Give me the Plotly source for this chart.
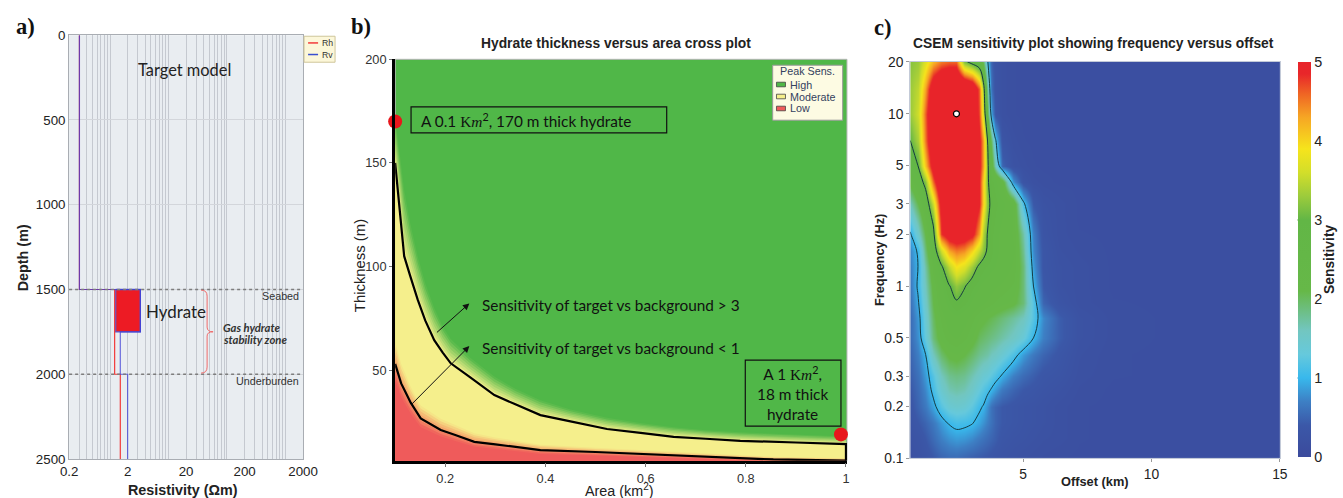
import numpy as np
import plotly.graph_objects as go

# The screenshot maps figure pixels to picture pixels as
#   picture = s * (figure + 8)  with s = 1343/1367 (x) and 498/514 (y)
# for a 1351x506 figure. All placements below are in picture pixels.
SX, SY = 1343 / 1367, 498 / 514
W, H = 1351, 506
def FX(x): return x / SX - 8
def FY(y): return y / SY - 8
def PX(x): return FX(x) / W
def PY(y): return 1 - FY(y) / H
FS = 1.025  # font compensation for the downscale

ARIAL = "Liberation Sans, Arial, sans-serif"
CAL = "Lato, Open Sans, sans-serif"
SERIF = "Liberation Serif, Times New Roman, serif"

# ---------------- Panel a: resistivity model ----------------
rh_res = [0.3, 0.3, 1.2, 1.2, 1.5, 1.5]
rh_depth = [0, 1500, 1500, 2000, 2000, 2500]
rv_res = [0.3, 0.3, 1.25, 3.3, 3.3, 1.5, 1.5, 2.0, 2.0]
rv_depth = [0, 1500, 1500, 1500, 1750, 1750, 2000, 2000, 2500]
hydrate_res = [1.25, 3.3, 3.3, 1.25, 1.25]
hydrate_depth = [1500, 1500, 1750, 1750, 1500]
seabed_depth = 1500
underburden_depth = 2000
res_tick_labels = [0.2, 2, 20, 200, 2000]
depth_ticks = [0, 500, 1000, 1500, 2000, 2500]

# ---------------- Panel b: thickness vs area ----------------
area_upper = [0.1, 0.104, 0.108, 0.113, 0.118, 0.13, 0.145, 0.16, 0.178, 0.195, 0.211, 0.25,
              0.298, 0.34, 0.39, 0.45, 0.523, 0.59, 0.656, 0.72, 0.789, 0.9, 1.0]
thick_upper = [150, 140, 128, 115, 105, 95.5, 84, 74, 64.5, 58.5, 53.3, 46.5,
               38, 33.5, 28.3, 25.3, 21.6, 19.7, 17.8, 16.9, 15.9, 15.1, 14.3]
thick_green_edge = [172, 165, 157, 147, 137, 121, 105, 92, 80, 71, 65, 56,
                    47, 41, 35.5, 31, 27, 24.5, 22.5, 21, 20, 18.8, 18]
area_lower = [0.1, 0.104, 0.112, 0.12, 0.131, 0.151, 0.17, 0.191, 0.22, 0.258, 0.3,
              0.39, 0.5, 0.656, 0.855, 1.0]
thick_lower = [53, 50, 43.6, 39.7, 34.3, 26.7, 24.1, 21.1, 18.7, 15.4, 14.2,
               11.4, 10.5, 9.0, 6.9, 6.3]
thick_orange_top = [64, 60, 53, 48.5, 42, 33, 30, 26.5, 23.5, 19.5, 17.5,
                    14, 12.5, 10.6, 8.2, 7.5]
thick_red_top = [45, 42, 37, 33.5, 29, 22.5, 20.5, 18, 15.8, 13, 12,
                 9.6, 8.8, 7.6, 6.0, 5.8]
case_area = [0.1, 0.99]
case_thick = [170, 19]
area_ticks = [0.2, 0.4, 0.6, 0.8, 1]
thick_ticks = [50, 100, 150, 200]

# ---------------- Panel c: sensitivity grid ----------------
offsets_km = [0.6, 0.9, 1.2, 1.5, 1.8, 2.1, 2.4, 2.7, 3.0, 3.3, 3.45, 3.6, 3.75, 3.9,
              4.2, 4.6, 5.0, 5.4, 5.8, 6.4, 7.2, 8.5, 11, 15]
freqs_hz = [0.1, 0.13, 0.16, 0.2, 0.25, 0.3, 0.4, 0.5, 0.65, 0.8, 1.0, 1.3, 1.6,
            2.0, 2.5, 3.0, 4.0, 5.0, 7.0, 10, 14, 20]
sens = [
    [0.2, 0.25, 0.3, 0.4, 0.5, 0.55, 0.55, 0.5, 0.45, 0.42, 0.4, 0.38, 0.35, 0.32, 0.28, 0.25, 0.22, 0.2, 0.18, 0.16, 0.15, 0.15, 0.15, 0.15],
    [0.25, 0.3, 0.4, 0.55, 0.7, 0.8, 0.85, 0.82, 0.75, 0.65, 0.6, 0.55, 0.5, 0.45, 0.35, 0.3, 0.28, 0.25, 0.22, 0.2, 0.16, 0.15, 0.15, 0.15],
    [0.3, 0.4, 0.5, 0.65, 0.85, 1.02, 1.1, 1.08, 1.02, 0.9, 0.8, 0.7, 0.6, 0.5, 0.4, 0.35, 0.3, 0.28, 0.25, 0.2, 0.16, 0.15, 0.15, 0.15],
    [0.35, 0.5, 0.65, 0.9, 1.2, 1.4, 1.45, 1.4, 1.25, 1.05, 0.98, 0.8, 0.6, 0.5, 0.4, 0.35, 0.3, 0.28, 0.25, 0.2, 0.16, 0.15, 0.15, 0.15],
    [0.4, 0.55, 0.75, 1.1, 1.45, 1.65, 1.7, 1.65, 1.5, 1.3, 1.2, 1.1, 0.98, 0.85, 0.65, 0.5, 0.4, 0.35, 0.3, 0.25, 0.18, 0.15, 0.15, 0.15],
    [0.45, 0.6, 0.85, 1.2, 1.6, 1.8, 1.85, 1.8, 1.65, 1.5, 1.4, 1.35, 1.25, 1.15, 0.95, 0.7, 0.55, 0.45, 0.35, 0.3, 0.2, 0.16, 0.15, 0.15],
    [0.5, 0.7, 1.0, 1.6, 1.95, 2.15, 2.2, 2.1, 1.95, 1.8, 1.75, 1.7, 1.6, 1.55, 1.4, 1.15, 0.85, 0.65, 0.5, 0.35, 0.22, 0.16, 0.15, 0.15],
    [0.55, 0.8, 1.3, 1.9, 2.25, 2.4, 2.45, 2.35, 2.2, 2.0, 1.95, 1.9, 1.85, 1.8, 1.7, 1.55, 1.35, 1.0, 0.7, 0.45, 0.25, 0.17, 0.15, 0.15],
    [0.55, 0.85, 1.4, 2.0, 2.35, 2.55, 2.6, 2.5, 2.35, 2.2, 2.15, 2.1, 2.05, 2.0, 1.9, 1.75, 1.6, 1.2, 0.75, 0.45, 0.25, 0.17, 0.15, 0.15],
    [0.6, 0.95, 1.5, 2.1, 2.5, 2.75, 2.95, 2.8, 2.6, 2.5, 2.45, 2.4, 2.35, 2.3, 2.25, 2.15, 1.9, 1.2, 0.5, 0.3, 0.2, 0.16, 0.15, 0.15],
    [0.65, 1.05, 1.6, 2.2, 2.6, 2.95, 3.25, 3.05, 2.8, 2.65, 2.6, 2.55, 2.5, 2.45, 2.4, 2.3, 1.9, 1.0, 0.4, 0.25, 0.2, 0.15, 0.15, 0.15],
    [0.7, 1.0, 1.7, 2.4, 2.9, 3.5, 3.9, 3.7, 3.3, 2.9, 2.8, 2.75, 2.7, 2.65, 2.55, 2.4, 1.9, 0.85, 0.35, 0.25, 0.2, 0.15, 0.15, 0.15],
    [0.75, 1.05, 1.9, 2.6, 3.6, 4.3, 4.5, 4.4, 4.0, 3.5, 3.2, 2.95, 2.8, 2.7, 2.6, 2.45, 1.8, 0.75, 0.35, 0.22, 0.18, 0.15, 0.15, 0.15],
    [0.95, 1.5, 2.1, 2.8, 4.8, 5.2, 5.3, 5.2, 5.0, 4.3, 3.4, 3.0, 2.8, 2.7, 2.6, 2.4, 1.7, 0.7, 0.3, 0.2, 0.16, 0.15, 0.15, 0.15],
    [1.3, 1.8, 2.35, 3.2, 5.0, 5.6, 5.7, 5.6, 5.3, 4.6, 3.7, 3.1, 2.85, 2.75, 2.65, 2.4, 1.4, 0.55, 0.28, 0.2, 0.15, 0.15, 0.15, 0.15],
    [1.6, 2.1, 2.6, 3.6, 5.2, 5.9, 6.0, 5.9, 5.6, 4.9, 4.0, 3.2, 2.9, 2.8, 2.7, 2.4, 1.1, 0.4, 0.25, 0.2, 0.15, 0.15, 0.15, 0.15],
    [2.2, 2.6, 3.2, 4.6, 5.6, 6.0, 6.0, 5.9, 5.6, 4.9, 4.0, 3.1, 2.8, 2.7, 2.3, 0.8, 0.3, 0.2, 0.17, 0.15, 0.15, 0.15, 0.15, 0.15],
    [2.6, 3.0, 4.1, 5.2, 5.9, 6.1, 6.1, 6.0, 5.7, 5.0, 4.3, 3.2, 2.4, 1.6, 0.5, 0.25, 0.2, 0.16, 0.15, 0.15, 0.15, 0.15, 0.15, 0.15],
    [3.0, 3.4, 4.5, 5.6, 6.0, 6.2, 6.2, 6.0, 5.7, 5.0, 4.3, 3.1, 2.0, 1.1, 0.3, 0.2, 0.16, 0.15, 0.15, 0.15, 0.15, 0.15, 0.15, 0.15],
    [3.3, 3.6, 4.6, 5.6, 6.0, 6.2, 6.2, 6.0, 5.6, 4.7, 3.6, 2.2, 0.9, 0.35, 0.2, 0.16, 0.15, 0.15, 0.15, 0.15, 0.15, 0.15, 0.15, 0.15],
    [3.3, 3.5, 4.3, 5.4, 5.8, 6.0, 6.0, 5.9, 5.6, 4.6, 3.3, 1.8, 0.6, 0.3, 0.2, 0.16, 0.15, 0.15, 0.15, 0.15, 0.15, 0.15, 0.15, 0.15],
    [3.2, 3.3, 3.7, 4.2, 4.5, 4.6, 4.6, 3.15, 2.8, 2.5, 2.0, 1.1, 0.5, 0.3, 0.2, 0.16, 0.15, 0.15, 0.15, 0.15, 0.15, 0.15, 0.15, 0.15],
]
peak_offset = [2.4]
peak_freq = [10]
freq_tick_labels = [0.1, 0.2, 0.3, 0.5, 1, 2, 3, 5, 10, 20]
offset_ticks = [5, 10, 15]
sens_ticks = [0, 1, 2, 3, 4, 5]

# ---------------- helpers ----------------
def hex2rgb(h):
    h = h.lstrip('#')
    return [int(h[i:i + 2], 16) for i in (0, 2, 4)]

def mix(c1, c2, t):
    a, b = hex2rgb(c1), hex2rgb(c2)
    return 'rgb(%d,%d,%d)' % tuple(round(a[i] + (b[i] - a[i]) * t) for i in range(3))

GREEN = '#50b748'
YELLOW = '#f5ef8c'
ORANGE = '#f5a86c'
RED = '#ef5b5b'

fig = go.Figure()

# ---------- Panel a traces ----------
fig.add_trace(go.Scatter(x=hydrate_res, y=hydrate_depth, xaxis='x', yaxis='y', mode='lines',
                         fill='toself', fillcolor='#ee1c25', line=dict(color='#5b5bd0', width=1.3),
                         hoverinfo='skip', showlegend=False))
fig.add_trace(go.Scatter(x=rh_res, y=rh_depth, xaxis='x', yaxis='y', mode='lines', name='Rh',
                         line=dict(color='#f23a3a', width=1.2), showlegend=False))
fig.add_trace(go.Scatter(x=rv_res, y=rv_depth, xaxis='x', yaxis='y', mode='lines', name='Rv',
                         line=dict(color='#3a3ad6', width=1.2), opacity=0.72, showlegend=False))

# ---------- Panel b traces ----------
up = np.array(thick_upper)
ge = np.array(thick_green_edge)
n = 7
for i in range(n, 0, -1):
    t = i / n
    yb = up + (ge - up) * t
    fig.add_trace(go.Scatter(x=area_upper, y=list(yb), xaxis='x2', yaxis='y2', mode='lines',
                             line=dict(width=0), fill='tozeroy',
                             fillcolor=mix(YELLOW, GREEN, (i - 0.5) / n),
                             hoverinfo='skip', showlegend=False))
fig.add_trace(go.Scatter(x=area_upper, y=thick_upper, xaxis='x2', yaxis='y2', mode='lines',
                         line=dict(width=0), fill='tozeroy', fillcolor=YELLOW,
                         hoverinfo='skip', showlegend=False))
ot = np.array(thick_orange_top)
rt = np.array(thick_red_top)
m = 7
for i in range(m):
    s = i / m
    yb = ot + (rt - ot) * s
    sc = (i + 0.5) / m
    col = mix(YELLOW, ORANGE, sc * 2) if sc < 0.5 else mix(ORANGE, RED, (sc - 0.5) * 2)
    fig.add_trace(go.Scatter(x=area_lower, y=list(yb), xaxis='x2', yaxis='y2', mode='lines',
                             line=dict(width=0), fill='tozeroy', fillcolor=col,
                             hoverinfo='skip', showlegend=False))
fig.add_trace(go.Scatter(x=area_lower, y=thick_red_top, xaxis='x2', yaxis='y2', mode='lines',
                         line=dict(width=0), fill='tozeroy', fillcolor=RED,
                         hoverinfo='skip', showlegend=False))
# contour outlines
fig.add_trace(go.Scatter(x=area_upper + [area_upper[-1]], y=thick_upper + [0], xaxis='x2', yaxis='y2',
                         mode='lines', line=dict(color='black', width=2.2), hoverinfo='skip',
                         showlegend=False))
fig.add_trace(go.Scatter(x=area_lower, y=thick_lower, xaxis='x2', yaxis='y2',
                         mode='lines', line=dict(color='black', width=2.2), hoverinfo='skip',
                         showlegend=False))
fig.add_trace(go.Scatter(x=case_area, y=case_thick, xaxis='x2', yaxis='y2', mode='markers',
                         marker=dict(color='#e8161c', size=14), cliponaxis=False,
                         hoverinfo='skip', showlegend=False))

# ---------- Panel c traces ----------
logf = list(np.log10(freqs_hz))
cscale = [
    [0.0, '#3b4a9c'], [0.08, '#3b58a8'], [0.14, '#3d7fc4'], [0.2, '#38b8ec'],
    [0.26, '#66c9dc'], [0.32, '#72c6c0'], [0.38, '#6cbd78'], [0.42, '#66b848'],
    [0.6, '#62b646'], [0.66, '#9ccb3c'], [0.72, '#d2de2a'], [0.78, '#f6e41c'],
    [0.86, '#f6a624'], [0.92, '#ef6424'], [0.97, '#e8262a'], [1.0, '#e8242a'],
]
CB_TOP, CB_BOT = 61.7, 457
fig.add_trace(go.Heatmap(x=offsets_km, y=logf, z=sens, xaxis='x3', yaxis='y3',
                         zmin=0, zmax=5, zsmooth='best', colorscale=cscale,
                         colorbar=dict(x=PX(1296.7), xanchor='left', y=PY(CB_BOT), yanchor='bottom',
                                       len=(FY(CB_BOT) - FY(CB_TOP)) / H, lenmode='fraction',
                                       thickness=13.3,
                                       outlinewidth=0, tickvals=sens_ticks, ticks='',
                                       tickfont=dict(family=ARIAL, size=14 * FS, color='#222'),
                                       xpad=0, ypad=0),
                         hoverinfo='skip'))
fig.add_trace(go.Contour(x=offsets_km, y=logf, z=sens, xaxis='x3', yaxis='y3',
                         contours=dict(coloring='none', start=1, end=3, size=2),
                         line=dict(color='#173a40', width=1), showscale=False, hoverinfo='skip'))
fig.add_trace(go.Scatter(x=peak_offset, y=list(np.log10(peak_freq)), xaxis='x3', yaxis='y3',
                         mode='markers', marker=dict(color='white', size=6,
                                                     line=dict(color='black', width=1.2)),
                         hoverinfo='skip', showlegend=False))

# ---------- axes ----------
res_grid = [d * k for d in [0.1, 1, 10, 100, 1000] for k in range(1, 10)]
res_grid = [v for v in res_grid if 0.19 < v < 2100]
res_text = [('%g' % v) if any(abs(v - r) < 1e-9 for r in res_tick_labels) else '' for v in res_grid]

tick_font_a = dict(family=ARIAL, size=13 * FS, color='#222')
tick_font_b = dict(family=ARIAL, size=12.5 * FS, color='#333')
tick_font_c = dict(family=ARIAL, size=13.5 * FS, color='#222')

layout = dict(
    width=W, height=H, margin=dict(l=0, r=0, t=0, b=0), autosize=False,
    paper_bgcolor='white', plot_bgcolor='#e9edf1', showlegend=False,
    xaxis=dict(domain=[PX(68), PX(302)], anchor='y', type='log',
               range=[np.log10(0.2), np.log10(2000)], tickvals=res_grid, ticktext=res_text,
               showgrid=True, gridcolor='#c5c9d0', gridwidth=1, zeroline=False,
               showline=True, linecolor='#a9adb3', mirror=True, ticks='', tickfont=tick_font_a),
    yaxis=dict(domain=[PY(459), PY(35)], anchor='x', range=[2500, 0], tickvals=depth_ticks,
               showgrid=True, gridcolor='#d3d6db', zeroline=False, showline=True,
               linecolor='#a9adb3', mirror=True, ticks='', tickfont=tick_font_a),
    xaxis2=dict(domain=[PX(394.1), PX(846)], anchor='y2', range=[0.1, 1.002],
                tickvals=area_ticks, ticktext=['%g' % v for v in area_ticks],
                showgrid=False, zeroline=False, showline=True, linecolor='black', linewidth=2.5,
                ticks='outside', ticklen=4, tickcolor='#777', tickfont=tick_font_b),
    yaxis2=dict(domain=[PY(460.7), PY(59.1)], anchor='x2', range=[6.3, 200],
                tickvals=thick_ticks, showgrid=False, zeroline=False, showline=True,
                linecolor='black', linewidth=3, ticks='outside', ticklen=3, tickcolor='#777',
                tickfont=tick_font_b),
    xaxis3=dict(domain=[PX(909.3), PX(1279)], anchor='y3', range=[0.6, 15],
                tickvals=offset_ticks, showgrid=False, zeroline=False, showline=True,
                linecolor='#c3cad8', mirror=True, ticks='outside', ticklen=3, tickcolor='#999',
                tickfont=tick_font_c),
    yaxis3=dict(domain=[PY(458.3), PY(61.7)], anchor='x3', range=[-1, np.log10(20)],
                tickvals=list(np.log10(freq_tick_labels)),
                ticktext=['%g' % v for v in freq_tick_labels],
                showgrid=False, zeroline=False, showline=True, linecolor='#c3cad8', mirror=True,
                ticks='outside', ticklen=3, tickcolor='#999', tickfont=tick_font_c),
)
fig.update_layout(**layout)

# ---------- shapes ----------
shapes = []
# panel b background
shapes.append(dict(type='rect', xref='x2 domain', yref='y2 domain', x0=0, x1=1, y0=0, y1=1,
                   fillcolor=GREEN, line=dict(width=0), layer='below'))
shapes.append(dict(type='rect', xref='x2 domain', yref='y2 domain', x0=0, x1=1, y0=0, y1=1,
                   fillcolor='rgba(0,0,0,0)', line=dict(color='#b5b5b5', width=1), layer='below'))
# panel a seabed/underburden lines
for d in [seabed_depth, underburden_depth]:
    shapes.append(dict(type='line', xref='x domain', yref='y', x0=0, x1=1, y0=d, y1=d,
                       line=dict(color='#7d7d7d', width=1.3, dash='dot')))
# bracket for gas hydrate stability zone
def P(x, y):
    return '%.5f,%.5f' % (PX(x), PY(y))
shapes.append(dict(type='path', xref='paper', yref='paper',
                   path='M' + P(200, 290) + ' Q' + P(206, 290) + ' ' + P(206, 296) +
                        ' L' + P(206, 327) + ' Q' + P(206, 331.7) + ' ' + P(212, 331.7) +
                        ' Q' + P(206, 331.7) + ' ' + P(206, 336) +
                        ' L' + P(206, 367) + ' Q' + P(206, 373) + ' ' + P(200, 373),
                   line=dict(color='#f06a6a', width=1)))
# panel a legend
shapes.append(dict(type='rect', xref='paper', yref='paper', x0=PX(303), x1=PX(334),
                   y0=PY(62), y1=PY(36), fillcolor='#fcf7d9', line=dict(color='#cfc59a', width=1)))
shapes.append(dict(type='line', xref='paper', yref='paper', x0=PX(307), x1=PX(317),
                   y0=PY(42.7), y1=PY(42.7), line=dict(color='#f23a3a', width=1.5)))
shapes.append(dict(type='line', xref='paper', yref='paper', x0=PX(307), x1=PX(317),
                   y0=PY(54.3), y1=PY(54.3), line=dict(color='#3a4fd0', width=1.5)))
# panel b legend
shapes.append(dict(type='rect', xref='paper', yref='paper', x0=PX(771.7), x1=PX(841.7),
                   y0=PY(120), y1=PY(65), fillcolor='#fdfbe3', line=dict(color='#9a9a9a', width=1)))
for yy, col in [(84.3, GREEN), (96.3, YELLOW), (108.3, RED)]:
    shapes.append(dict(type='rect', xref='paper', yref='paper', x0=PX(775.5), x1=PX(784.5),
                       y0=PY(yy + 2.3), y1=PY(yy - 2.3), fillcolor=col,
                       line=dict(color='#444', width=0.8)))
# panel b annotation boxes
shapes.append(dict(type='rect', xref='paper', yref='paper', x0=PX(410), x1=PX(665.7),
                   y0=PY(132.7), y1=PY(106.7), line=dict(color='#111', width=1.2)))
shapes.append(dict(type='rect', xref='paper', yref='paper', x0=PX(744.3), x1=PX(840),
                   y0=PY(426), y1=PY(360), line=dict(color='#111', width=1.2)))
# colorbar contour-level marks
for lev, col in [(1, '#2a9fd0'), (3, '#4a9c3a')]:
    yy = CB_BOT - lev * (CB_BOT - CB_TOP) / 5
    shapes.append(dict(type='line', xref='paper', yref='paper', x0=PX(1296.7), x1=PX(1309.7),
                       y0=PY(yy), y1=PY(yy), line=dict(color=col, width=1.5)))
fig.update_layout(shapes=shapes)

# ---------- annotations ----------
ann = []
def T(text, x, y, size, family=ARIAL, color='#222', xanchor='center', yanchor='middle',
      textangle=0, **kw):
    ann.append(dict(text=text, x=PX(x), y=PY(y), xref='paper', yref='paper', showarrow=False,
                    xanchor=xanchor, yanchor=yanchor, textangle=textangle,
                    font=dict(family=family, size=size * FS, color=color), **kw))

# panel labels
T('<b>a)</b>', 24, 26, 22, SERIF, '#111')
T('<b>b)</b>', 360, 26, 22, SERIF, '#111')
T('<b>c)</b>', 882, 27, 22, SERIF, '#111')

# panel a texts
T('Target model', 183.5, 69, 16, CAL, '#222')
T('Hydrate', 142.7, 311.7, 16.5, CAL, '#222', xanchor='left')
T('Seabed', 300, 295.5, 10.5, ARIAL, '#333', xanchor='right')
T('Underburden', 300, 380.5, 10.5, ARIAL, '#333', xanchor='right')
T('<b><i>Gas hydrate</i></b>', 220, 327, 11, CAL, '#333', xanchor='left')
T('<b><i>stability zone</i></b>', 220, 339.5, 11, CAL, '#333', xanchor='left')
T('<b>Depth (m)</b>', 22, 258, 14, ARIAL, '#222', textangle=-90)
T('<b>Resistivity (Ωm)</b>', 182, 490, 14, ARIAL, '#222')
T('Rh', 319, 42.7, 8.5, ARIAL, '#333', xanchor='left')
T('Rv', 319, 54.3, 8.5, ARIAL, '#333', xanchor='left')

# panel b texts
T('<b>Hydrate thickness versus area cross plot</b>', 615, 43, 13.5, ARIAL, '#222')
T('Thickness (m)', 359, 266, 14.5, ARIAL, '#222', textangle=-90)
T('Area (km<sup>2</sup>)', 618, 490, 14, ARIAL, '#222')
KM = '<span style="font-family:Liberation Serif">K<i>m</i></span><sup>2</sup>'
T('A 0.1 ' + KM + ', 170 m thick hydrate', 418.3, 119.7, 15, CAL, '#111', xanchor='left')
T('A 1 ' + KM + ',<br>18 m thick<br>hydrate', 792, 393.3, 15, CAL, '#111')
T('Sensitivity of target vs background &gt; 3', 479.3, 305, 15, CAL, '#111', xanchor='left')
T('Sensitivity of target vs background &lt; 1', 479.3, 348.3, 15, CAL, '#111', xanchor='left')
T('Peak Sens.', 776.7, 71, 10.5, ARIAL, '#34415e', xanchor='left')
T('High', 786.7, 84.3, 10.5, ARIAL, '#34415e', xanchor='left')
T('Moderate', 786.7, 96.3, 10.5, ARIAL, '#34415e', xanchor='left')
T('Low', 786.7, 108.3, 10.5, ARIAL, '#34415e', xanchor='left')
for head, tail in [((468.3, 303.3), (435, 332.7)), ((468.3, 346), (410, 404))]:
    ann.append(dict(text='', x=PX(head[0]), y=PY(head[1]), xref='paper', yref='paper',
                    showarrow=True, ax=FX(tail[0]) - FX(head[0]), ay=FY(tail[1]) - FY(head[1]),
                    arrowhead=2, arrowsize=1.3, arrowwidth=1, arrowcolor='#111', standoff=0))

# panel c texts
T('<b>CSEM sensitivity plot showing frequency versus offset</b>', 1093, 43, 13.5, ARIAL, '#222')
T('<b>Frequency (Hz)</b>', 878, 260, 12.5, ARIAL, '#222', textangle=-90)
T('<b>Offset (km)</b>', 1094, 481, 12.5, ARIAL, '#222')
T('<b>Sensitivity</b>', 1328, 259, 13.5, ARIAL, '#222', textangle=-90)

fig.update_layout(annotations=ann)
fig.write_html('out.html')
